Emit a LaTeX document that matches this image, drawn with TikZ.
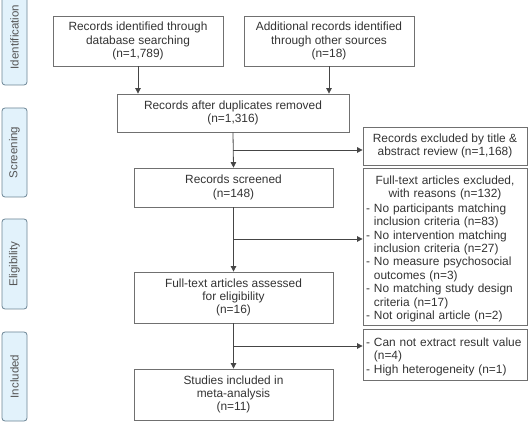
\documentclass[tikz,border=0pt]{standalone}
\usepackage{fontspec}
\setmainfont{Liberation Sans}
\usetikzlibrary{arrows.meta}
\definecolor{boxline}{HTML}{707070}
\definecolor{arrline}{HTML}{454545}
\definecolor{sidefill}{HTML}{E2F2FB}
\definecolor{sideline}{HTML}{6B8494}
\definecolor{sidetext}{HTML}{555555}
\definecolor{txt}{HTML}{333333}
\tikzset{
  mainbox/.style={draw=boxline, line width=0.8pt, align=center, inner sep=2pt,
    text=txt, font=\fontsize{11.9}{13.4}\selectfont},
  listbox/.style={draw=boxline, line width=0.8pt, inner xsep=3pt, inner ysep=2pt,
    text=txt, font=\fontsize{11.9}{13.4}\selectfont},
  sidebox/.style={draw=sideline, fill=sidefill, line width=0.8pt, rounded corners=3pt,
    minimum height=25pt, text=sidetext, rotate=90, inner sep=0pt,
    font=\fontsize{11.5}{13}\selectfont},
  arr/.style={draw=arrline, line width=0.8pt, -{Triangle[width=5.5pt,length=5.5pt]}}
}
\newcommand{\cl}[1]{\par\noindent\hbox to\hsize{\hfil #1\hfil}\par}
\newcommand{\il}[1]{\par\noindent\hbox{#1}\par}
\newcommand{\jl}[1]{\par\noindent\hbox{\hphantom{-\ }#1}\par}
\begin{document}
\begin{tikzpicture}[x=1pt,y=-1pt]
\useasboundingbox (0,0) rectangle (528,422);
% side labels
\node[sidebox, minimum width=96pt] (sid) at (14.5,37) {Identification};
\node[sidebox, minimum width=89pt] (sscr) at (14.5,152.5) {Screening};
\node[sidebox, minimum width=90pt] (selig) at (14.5,264) {Eligibility};
\node[sidebox, minimum width=89pt] (sinc) at (14.5,376.5) {Included};
% main boxes
\node[mainbox, minimum width=170pt, minimum height=50pt] (b1) at (138,41)
  {Records identified through\\database searching\\(n=1,789)};
\node[mainbox, minimum width=170pt, minimum height=50pt] (b2) at (329,41)
  {Additional records identified\\through other sources\\(n=18)};
\node[mainbox, minimum width=232pt, minimum height=38pt] (b3) at (233,113)
  {Records after duplicates removed\\(n=1,316)};
\node[mainbox, minimum width=199pt, minimum height=39pt] (b4) at (233.5,187.5)
  {Records screened\\(n=148)};
\node[mainbox, minimum width=199pt, minimum height=51pt] (b7) at (233.5,297.5)
  {Full-text articles assessed\\for eligibility\\(n=16)};
\node[mainbox, minimum width=199pt, minimum height=51pt] (b8) at (233.5,394.5)
  {Studies included in\\meta-analysis\\(n=11)};
\node[mainbox, minimum width=164pt, minimum height=38pt] (b5) at (445,146)
  {Records excluded by title \&\\abstract review (n=1,168)};
\node[listbox, text width=158pt, minimum height=157pt] (b6) at (445,246.5) {%
  \cl{Full-text articles excluded,}
  \cl{with reasons (n=132)}
  \vspace{1pt}
  \il{- No participants matching}
  \jl{inclusion criteria (n=83)}
  \il{- No intervention matching}
  \jl{inclusion criteria (n=27)}
  \il{- No measure psychosocial}
  \jl{outcomes (n=3)}
  \il{- No matching study design}
  \jl{criteria (n=17)}
  \il{- Not original article (n=2)}};
\node[listbox, text width=158pt, minimum height=51pt] (b9) at (445,354.5) {%
  \il{- Can not extract result value}
  \jl{(n=4)}
  \il{- High heterogeneity (n=1)}};
% connectors
\draw[arr] (b1.south) -- (b1.south |- b3.north);
\draw[arr] (b2.south -| 329,0) -- (329,0 |- b3.north);
\draw[arr] (b3.south) -- (b4.north);
\coordinate (j1) at (233,150);
\draw[arr] (j1) -- (b5.west |- j1);
\draw[arr] (b4.south) -- (b7.north);
\coordinate (j2) at (233.5,239);
\draw[arr] (j2) -- (b6.west |- j2);
\draw[arr] (b7.south) -- (b8.north);
\coordinate (j3) at (233.5,346);
\draw[arr] (j3) -- (b9.west |- j3);
\end{tikzpicture}
\end{document}
